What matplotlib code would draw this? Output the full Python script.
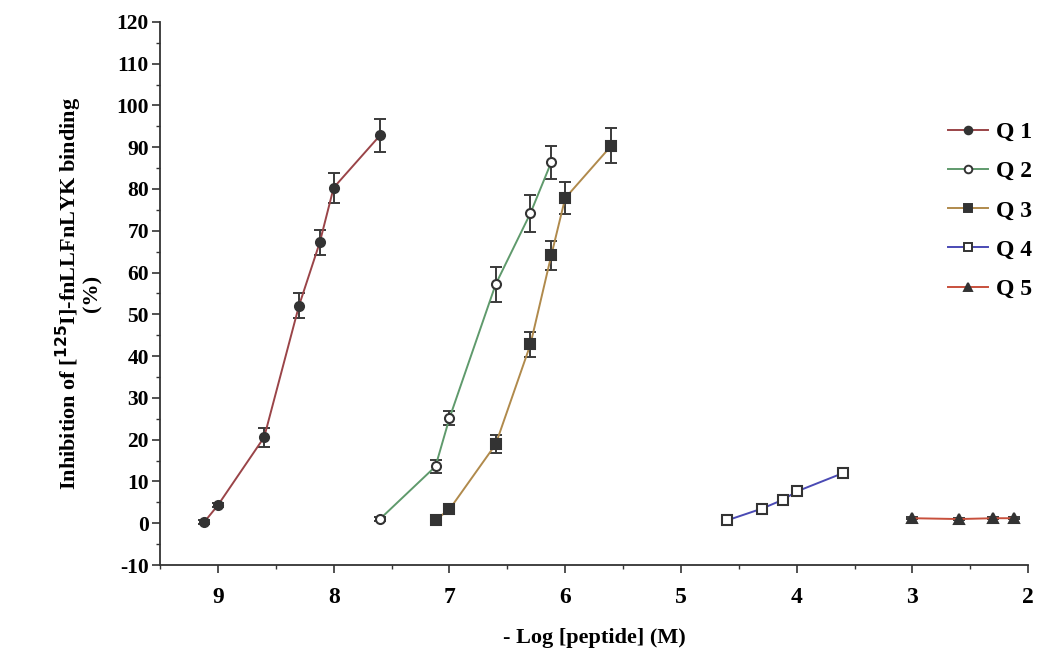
import matplotlib
matplotlib.use('agg')
import matplotlib.pyplot as plt
from matplotlib.ticker import MultipleLocator
from matplotlib.lines import Line2D

plt.rcParams['font.family'] = ['Liberation Serif', 'DejaVu Serif']
plt.rcParams['font.weight'] = 'bold'
plt.rcParams['axes.unicode_minus'] = False

# -log[peptide] (M) and % inhibition
q1_x = [9.12, 9.0, 8.6, 8.3, 8.12, 8.0, 7.6]
q1_y = [0.2, 4.3, 20.6, 52.0, 67.2, 80.3, 92.8]
q1_err = [0.5, 0.5, 2.3, 3.0, 3.0, 3.6, 4.0]

q2_x = [7.6, 7.12, 7.0, 6.6, 6.3, 6.12]
q2_y = [1.0, 13.6, 25.1, 57.2, 74.2, 86.4]
q2_err = [0.4, 1.6, 1.7, 4.2, 4.4, 4.0]

q3_x = [7.12, 7.0, 6.6, 6.3, 6.12, 6.0, 5.6]
q3_y = [0.8, 3.3, 18.9, 42.8, 64.1, 77.8, 90.4]
q3_err = [0.4, 0.4, 2.2, 3.0, 3.4, 3.8, 4.3]

q4_x = [4.6, 4.3, 4.12, 4.0, 3.6]
q4_y = [0.7, 3.5, 5.6, 7.6, 12.0]
q4_err = [0.4, 0.4, 0.4, 0.4, 1.0]

q5_x = [3.0, 2.6, 2.3, 2.12]
q5_y = [1.2, 1.0, 1.2, 1.2]
q5_err = [0.3, 0.3, 0.3, 0.3]

labels = ['Q 1', 'Q 2', 'Q 3', 'Q 4', 'Q 5']
line_colors = ['#9a4448', '#5f9a6c', '#b08a4c', '#4a4ab4', '#c8503c']
markers = ['o', 'o', 's', 's', '^']
fills = ['#333333', 'white', '#333333', 'white', '#333333']

series = [(q1_x, q1_y, q1_err), (q2_x, q2_y, q2_err), (q3_x, q3_y, q3_err),
          (q4_x, q4_y, q4_err), (q5_x, q5_y, q5_err)]

fig = plt.figure(figsize=(10.41, 6.56), dpi=100)
ax = fig.add_axes([0.1537, 0.1387, 0.834, 0.828])

handles = []
for (x, y, e), lab, lc, mk, fc in zip(series, labels, line_colors, markers, fills):
    ax.errorbar(x, y, yerr=e, fmt='none', ecolor='#3a3a3a', elinewidth=1.4,
                capsize=4, capthick=1.4, zorder=2)
    ax.plot(x, y, color=lc, lw=1.4, zorder=3)
    ax.plot(x, y, ls='none', marker=mk, ms=6.5, mfc=fc, mec='#333333',
            mew=1.5, zorder=4)
    handles.append(Line2D([], [], color=lc, lw=1.4, marker=mk, ms=5.5,
                          mfc=fc, mec='#333333', mew=1.4, label=lab))

ax.set_xlim(9.5, 2)
ax.set_ylim(-10, 120)
ax.xaxis.set_major_locator(MultipleLocator(1))
ax.xaxis.set_minor_locator(MultipleLocator(0.5))
ax.yaxis.set_major_locator(MultipleLocator(10))
ax.yaxis.set_minor_locator(MultipleLocator(5))

for s in ['top', 'right']:
    ax.spines[s].set_visible(False)
for s in ['left', 'bottom']:
    ax.spines[s].set_linewidth(1.3)
    ax.spines[s].set_color('#333333')

ax.tick_params(axis='both', which='major', length=6, width=1.2, color='#333333')
ax.tick_params(axis='both', which='minor', length=3, width=1.0, color='#333333')
ax.tick_params(axis='y', labelsize=15.5, pad=2)
ax.tick_params(axis='x', labelsize=17, pad=10)

ax.set_xlabel('- Log [peptide] (M)', fontsize=16, fontweight='bold', labelpad=14)
ax.set_ylabel('Inhibition of [$^{\\mathbf{125}}$I]-fnLLFnLYK binding\n(%)',
              fontsize=16, fontweight='bold', labelpad=10, linespacing=0.9)

fig.legend(handles=handles, loc='upper left', bbox_to_anchor=(0.911, 0.815),
           frameon=False, handlelength=1.7, labelspacing=0.75,
           handletextpad=0.3, borderpad=0, borderaxespad=0,
           prop={'weight': 'bold', 'size': 17})

fig.savefig('out.png', dpi=100)
